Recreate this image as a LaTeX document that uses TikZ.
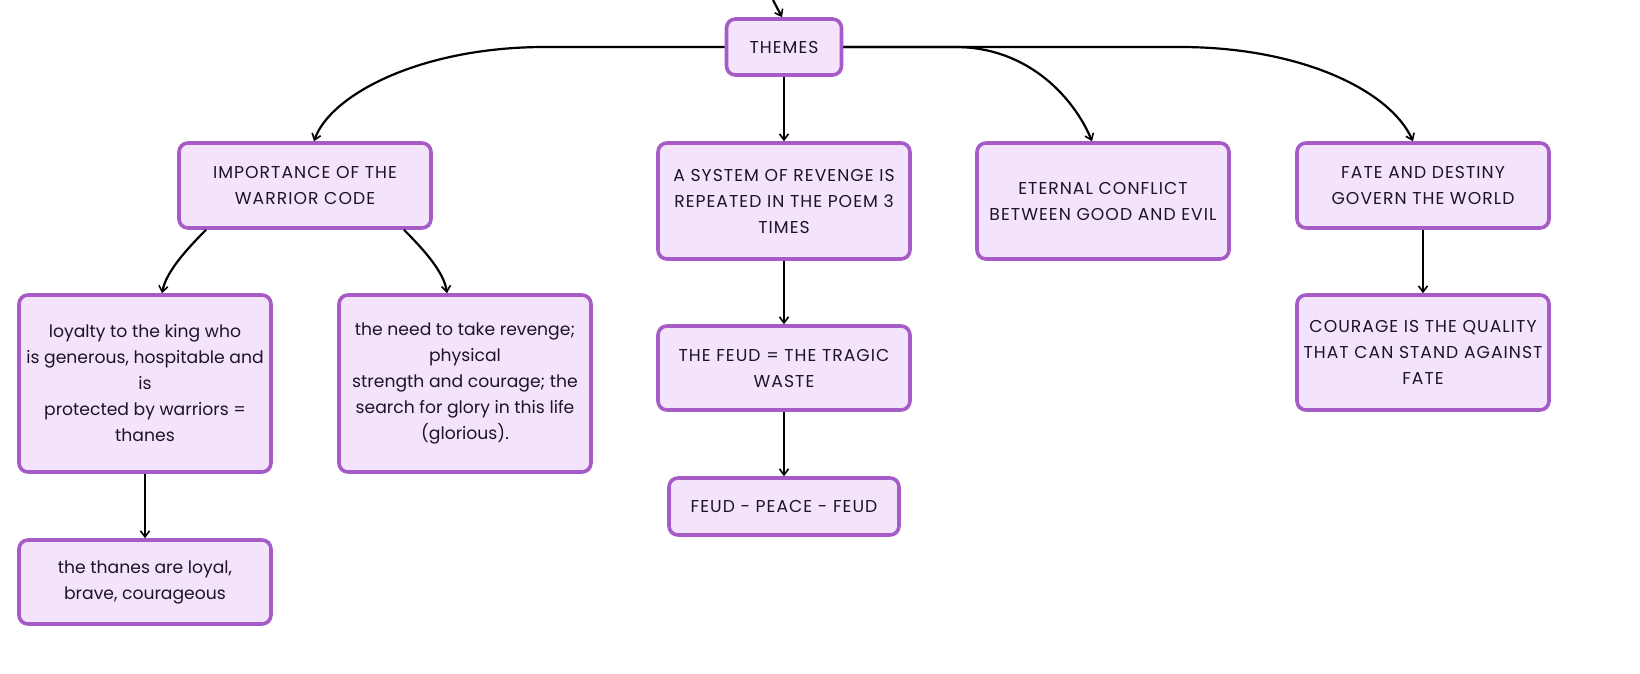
\documentclass[tikz,border=0pt]{standalone}
\usepackage{fontspec}
\setmainfont{Poppins}
\newfontfamily\capsfont[LetterSpace=6]{Poppins}
\usetikzlibrary{arrows.meta,calc}
\definecolor{boxborder}{HTML}{A65BC6}
\definecolor{boxfill}{HTML}{F3E4FB}
\definecolor{boxtext}{HTML}{1E1428}
\tikzset{
  mbox/.style={draw=boxborder, fill=boxfill, line width=3.6pt, rounded corners=9pt,
    align=center, text=boxtext, font=\fontsize{17.2}{26}\selectfont, inner sep=0pt},
  cbox/.style={mbox, font=\capsfont\fontsize{17.2}{26}\selectfont},
  arr/.style={line width=2.2pt, draw=black, -{Straight Barb[length=6pt,width=9pt,line width=1.6pt]}}
}
\begin{document}
\begin{tikzpicture}[x=1pt,y=1pt]
\useasboundingbox (0,0) rectangle (1640,-674);
\node[cbox, minimum width=115pt, minimum height=56pt] (themes) at (784,-47) {THEMES};
\node[cbox, minimum width=252pt, minimum height=85pt] (imp) at (305,-185.5) {IMPORTANCE OF THE\\WARRIOR CODE};
\node[cbox, minimum width=252pt, minimum height=116pt] (sys) at (784,-201) {A SYSTEM OF REVENGE IS\\REPEATED IN THE POEM 3\\TIMES};
\node[cbox, minimum width=252pt, minimum height=116pt] (eter) at (1103,-201) {ETERNAL CONFLICT\\BETWEEN GOOD AND EVIL};
\node[cbox, minimum width=252pt, minimum height=85pt] (fate) at (1423,-185.5) {FATE AND DESTINY\\GOVERN THE WORLD};
\node[mbox, minimum width=252pt, minimum height=177pt] (loy) at (145,-383.5) {loyalty to the king who\\is generous, hospitable and\\is\\protected by warriors =\\thanes};
\node[mbox, minimum width=252pt, minimum height=177pt] (need) at (465,-383.5) {the need to take revenge;\\physical\\strength and courage; the\\search for glory in this life\\(glorious).};
\node[cbox, minimum width=252pt, minimum height=84pt] (feud) at (784,-368) {THE FEUD = THE TRAGIC\\WASTE};
\node[cbox, minimum width=230pt, minimum height=57pt] (fpf) at (784,-506.5) {FEUD - PEACE - FEUD};
\node[mbox, minimum width=252pt, minimum height=84pt] (than) at (145,-582) {the thanes are loyal,\\brave, courageous};
\node[cbox, minimum width=252pt, minimum height=115pt] (cour) at (1423,-352.5) {COURAGE IS THE QUALITY\\THAT CAN STAND AGAINST\\FATE};
\coordinate (topin) at (773,0);
\draw[arr] (topin) -- ($(themes.north)+(-2,0)$);
\draw[arr] (themes.west) -- (545,-47) .. controls (420,-47) and (330,-95) .. ($(imp.north)+(9,0)$);
\draw[arr] (themes.south) -- (sys.north);
\draw[arr] (themes.east) -- (955,-47) .. controls (1030,-47) and (1075,-100) .. ($(eter.north)+(-11,0)$);
\draw[arr] (themes.east) -- (1180,-47) .. controls (1300,-47) and (1390,-90) .. ($(fate.north)+(-10,0)$);
\draw[arr] ($(imp.south)+(-99,0)$) .. controls (186,-250) and (166,-272) .. ($(loy.north)+(17,0)$);
\draw[arr] ($(imp.south)+(99,0)$) .. controls (424,-250) and (444,-272) .. ($(need.north)+(-18,0)$);
\draw[arr] (sys.south) -- (feud.north);
\draw[arr] (feud.south) -- (fpf.north);
\draw[arr] (loy.south) -- (than.north);
\draw[arr] (fate.south) -- (cour.north);
\end{tikzpicture}
\end{document}
